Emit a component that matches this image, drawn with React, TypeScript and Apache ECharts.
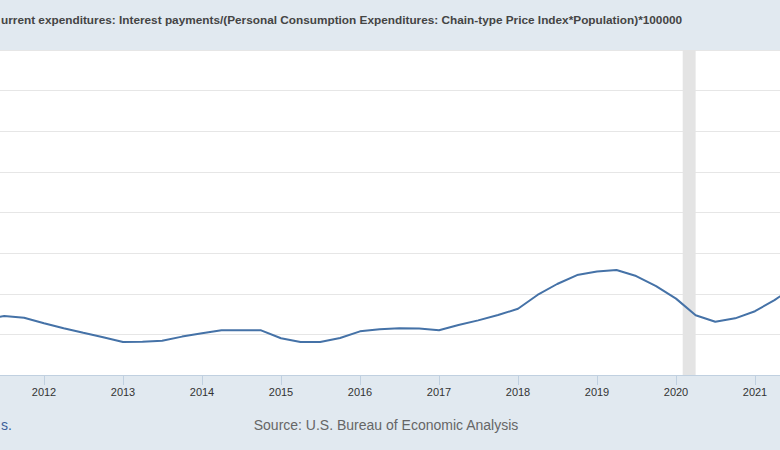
import React, { useEffect, useRef } from "react";
import * as echarts from "echarts";

// Quarterly observations (first day of quarter) and values
const quarters = [
  "2011-04-01", "2011-07-01", "2011-10-01",
  "2012-01-01", "2012-04-01", "2012-07-01", "2012-10-01",
  "2013-01-01", "2013-04-01", "2013-07-01", "2013-10-01",
  "2014-01-01", "2014-04-01", "2014-07-01", "2014-10-01",
  "2015-01-01", "2015-04-01", "2015-07-01", "2015-10-01",
  "2016-01-01", "2016-04-01", "2016-07-01", "2016-10-01",
  "2017-01-01", "2017-04-01", "2017-07-01", "2017-10-01",
  "2018-01-01", "2018-04-01", "2018-07-01", "2018-10-01",
  "2019-01-01", "2019-04-01", "2019-07-01", "2019-10-01",
  "2020-01-01", "2020-04-01", "2020-07-01", "2020-10-01",
  "2021-01-01", "2021-04-01", "2021-07-01",
];
const values = [
  1.276, 1.290, 1.282,
  1.255, 1.230, 1.208, 1.186,
  1.162, 1.164, 1.169, 1.189,
  1.205, 1.220, 1.220, 1.220,
  1.181, 1.162, 1.162, 1.182,
  1.215, 1.225, 1.230, 1.229,
  1.220, 1.246, 1.269, 1.295,
  1.326, 1.394, 1.448, 1.492,
  1.509, 1.517, 1.487, 1.438,
  1.376, 1.294, 1.262, 1.279,
  1.314, 1.369, 1.433,
];
const recession = ["2020-02-01", "2020-04-01"];
const yRange = [1.0, 2.6, 0.2];
const xRange = [2011, 2022];

const titleText =
  "urrent expenditures: Interest payments/(Personal Consumption Expenditures: Chain-type Price Index*Population)*100000";
const sourceText = "Source: U.S. Bureau of Economic Analysis";
const noteText = "s.";

function toYear(d: string): number {
  const [y, m, dd] = d.split("-").map(Number);
  const start = Date.UTC(y, 0, 1);
  const end = Date.UTC(y + 1, 0, 1);
  return y + (Date.UTC(y, m - 1, dd) - start) / (end - start);
}

const FONT = "Arial, 'Liberation Sans', sans-serif";
const OFFSET = 35; // chart canvas extends past the window on the left
const CHART_W = 869;

export default function App() {
  const ref = useRef<HTMLDivElement>(null);
  useEffect(() => {
    if (!ref.current) return;
    const chart = echarts.init(ref.current, undefined, { renderer: "svg" });
    const data = quarters.map((q, i) => [toYear(q), values[i]]);
    chart.setOption({
      animation: false,
      backgroundColor: "#e1e9f0",
      grid: {
        left: 0,
        right: 0,
        top: 50,
        bottom: 75,
        show: true,
        backgroundColor: "#ffffff",
        borderWidth: 0,
      },
      xAxis: {
        type: "value",
        min: xRange[0],
        max: xRange[1],
        interval: 1,
        axisLine: { show: true, lineStyle: { color: "#c0d0e0", width: 1 } },
        axisTick: { show: true, length: 10, lineStyle: { color: "#c0d0e0" } },
        axisLabel: {
          show: true,
          showMinLabel: false,
          showMaxLabel: false,
          formatter: (v: number) => String(v),
          fontSize: 11,
          color: "#333333",
          fontFamily: FONT,
          margin: 11,
        },
        splitLine: { show: false },
      },
      yAxis: {
        type: "value",
        min: yRange[0],
        max: yRange[1],
        interval: yRange[2],
        axisLabel: { show: false },
        axisLine: { show: false },
        axisTick: { show: false },
        splitLine: { show: true, lineStyle: { color: "#e6e6e6", width: 1 } },
      },
      series: [
        {
          type: "line",
          data,
          symbol: "none",
          smooth: false,
          lineStyle: { color: "#4572a7", width: 2 },
          itemStyle: { color: "#4572a7" },
          markArea: {
            silent: true,
            itemStyle: { color: "#e4e4e4" },
            data: [[{ xAxis: toYear(recession[0]) }, { xAxis: toYear(recession[1]) }]],
          },
          z: 3,
        },
      ],
      graphic: [
        {
          type: "text",
          x: 1 + OFFSET,
          y: 20,
          style: {
            text: titleText,
            fill: "#444444",
            font: `bold 11.8px ${FONT}`,
            textAlign: "left",
            textVerticalAlign: "middle",
          },
        },
        {
          type: "text",
          x: 386 + OFFSET,
          y: 425,
          style: {
            text: sourceText,
            fill: "#666666",
            font: `14px ${FONT}`,
            textAlign: "center",
            textVerticalAlign: "middle",
          },
        },
        {
          type: "text",
          x: 1 + OFFSET,
          y: 425,
          style: {
            text: noteText,
            fill: "#3c609a",
            font: `14px ${FONT}`,
            textAlign: "left",
            textVerticalAlign: "middle",
          },
        },
      ],
    });
    return () => chart.dispose();
  }, []);
  return (
    <div
      style={{
        position: "fixed",
        left: 0,
        top: 0,
        width: 780,
        height: 450,
        overflow: "hidden",
        background: "#e1e9f0",
      }}
    >
      <div
        ref={ref}
        style={{ position: "absolute", left: -OFFSET, top: 0, width: CHART_W, height: 450 }}
      />
    </div>
  );
}
